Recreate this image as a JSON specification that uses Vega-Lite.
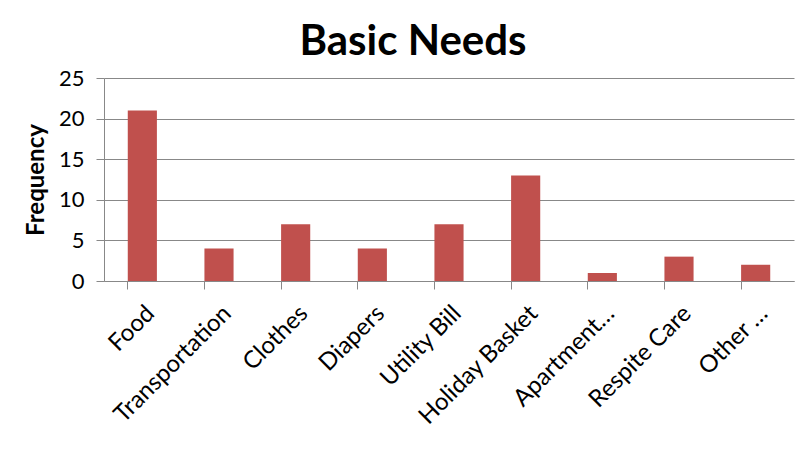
{
  "$schema": "https://vega.github.io/schema/vega-lite/v6.json",
  "autosize": "none",
  "width": 690,
  "height": 203,
  "padding": {"left": 104, "top": 78, "right": 18, "bottom": 184},
  "background": "white",
  "title": {"text": "Basic Needs", "fontSize": 42, "font": "Lato", "fontWeight": "bold", "color": "black", "anchor": "middle", "offset": 3, "dx": -36},
  "data": {"values": [
    {"category": "Food", "frequency": 21},
    {"category": "Transportation", "frequency": 4},
    {"category": "Clothes", "frequency": 7},
    {"category": "Diapers", "frequency": 4},
    {"category": "Utility Bill", "frequency": 7},
    {"category": "Holiday Basket", "frequency": 13},
    {"category": "Apartment…", "frequency": 1},
    {"category": "Respite Care", "frequency": 3},
    {"category": "Other …", "frequency": 2}
  ]},
  "mark": {"type": "bar", "color": "#C0504D"},
  "encoding": {
    "x": {"field": "category", "type": "nominal", "sort": null,
      "scale": {"paddingInner": 0.62, "paddingOuter": 0.31},
      "axis": {"title": null, "labelAngle": -45, "labelFont": "Lato", "labelFontSize": 24, "labelColor": "black", "labelPadding": 12, "bandPosition": 0, "tickSize": 8, "tickColor": "#888", "domainColor": "#888", "labelLimit": 300}},
    "y": {"field": "frequency", "type": "quantitative",
      "scale": {"domain": [0, 25], "nice": false},
      "axis": {"title": "Frequency", "titleFont": "Lato", "titleFontSize": 24, "titleFontWeight": "bold", "titleColor": "black", "titlePadding": 10,
        "values": [0, 5, 10, 15, 20, 25], "labelFont": "Lato", "labelFontSize": 22, "labelColor": "black", "labelPadding": 12, "tickSize": 8, "tickColor": "#888", "domainColor": "#888", "gridColor": "#888", "gridOpacity": 1}}
  },
  "config": {"view": {"stroke": null}}
}
